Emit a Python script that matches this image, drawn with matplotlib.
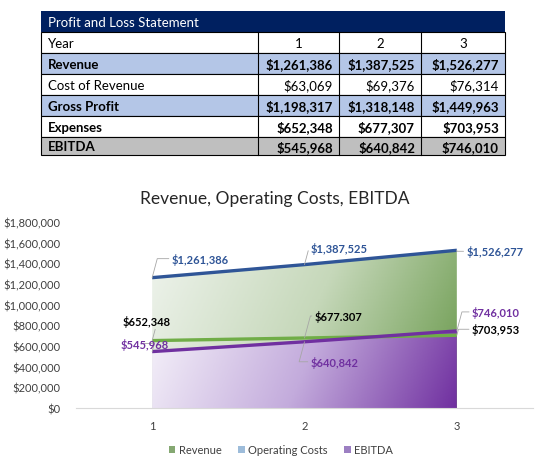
import numpy as np
import matplotlib
matplotlib.use("Agg")
import matplotlib.pyplot as plt
from matplotlib.patches import Rectangle, PathPatch, Patch
from matplotlib.colors import LinearSegmentedColormap

plt.rcParams['font.family'] = ['Lato', 'DejaVu Sans']

# data
years = [1, 2, 3]
revenue = [1261386, 1387525, 1526277]
cost_of_revenue = [63069, 69376, 76314]
gross_profit = [1198317, 1318148, 1449963]
expenses = [652348, 677307, 703953]
ebitda = [545968, 640842, 746010]

row_names = ['Year', 'Revenue', 'Cost of Revenue', 'Gross Profit', 'Expenses', 'EBITDA']
row_bold = [False, True, False, True, True, True]
row_fill = ['white', '#B4C6E7', 'white', '#B4C6E7', 'white', '#BFBFBF']

# labels on the chart (one typo kept as in the source)
exp_labels = ['$652,348', '$677.307', '$703,953']

W, H = 542, 477
fig = plt.figure(figsize=(W / 100, H / 100), dpi=100)

# ---- table, drawn in pixel coords
tab = fig.add_axes([0, 0, 1, 1])
tab.set_xlim(0, W)
tab.set_ylim(H, 0)
tab.axis('off')

col_x = [41, 258, 339, 421, 505]
row_y = [12, 33, 54, 75, 96, 117, 138, 156]

tab.add_patch(Rectangle((col_x[0], row_y[0]), col_x[-1] - col_x[0], row_y[1] - row_y[0],
                        fc='#002060', ec='none'))
tab.text(col_x[0] + 7, (row_y[0] + row_y[1]) / 2 + 0.5, 'Profit and Loss Statement',
         color='white', fontsize=9.5, va='center', ha='left')

def fmt(v):
    return '${:,}'.format(v)

table_rows = [years, revenue, cost_of_revenue, gross_profit, expenses, ebitda]
for i, name in enumerate(row_names):
    y0, y1 = row_y[i + 1], row_y[i + 2]
    yc = (y0 + y1) / 2 + 0.5
    tab.add_patch(Rectangle((col_x[0], y0), col_x[-1] - col_x[0], y1 - y0,
                            fc=row_fill[i], ec='black', lw=0.8))
    for c in range(1, 4):
        tab.plot([col_x[c], col_x[c]], [y0, y1], color='black', lw=0.8)
    fw = 'bold' if row_bold[i] else 'normal'
    tab.text(col_x[0] + 7, yc, name, fontsize=9.5, fontweight=fw, va='center')
    for c, v in enumerate(table_rows[i]):
        if i == 0:
            tab.text((col_x[c + 1] + col_x[c + 2]) / 2, yc, str(v), fontsize=9.5,
                     va='center', ha='center')
        else:
            tab.text(col_x[c + 2] - 6, yc, fmt(v), fontsize=9.5, fontweight=fw,
                     va='center', ha='right')

# ---- chart
ax = fig.add_axes([76 / W, (H - 409) / H, 457 / W, 186 / H])
ax.set_xlim(0.5, 3.5)
ax.set_ylim(0, 1800000)
for s in ['top', 'right', 'left']:
    ax.spines[s].set_visible(False)
ax.spines['bottom'].set_color('#D9D9D9')
ax.tick_params(length=0, labelsize=8, colors='#404040')
ax.tick_params(axis='y', pad=11)
ax.tick_params(axis='x', pad=9)
ax.set_xticks(years)
ax.set_yticks(np.arange(0, 1800001, 200000))
ax.yaxis.set_major_formatter(matplotlib.ticker.FuncFormatter(lambda v, p: '${:,.0f}'.format(v)))

green = LinearSegmentedColormap.from_list('g', ['#EEF3EC', '#C6D8BA', '#68984A'])
purple = LinearSegmentedColormap.from_list('p', ['#F4F0F9', '#C3ABDC', '#7030A0'])

def grad_area(vals, cmap, wx, z):
    poly = ax.fill_between(years, 0, vals, facecolor='none', edgecolor='none')
    path = poly.get_paths()[0]
    patch = PathPatch(path, transform=ax.transData, fc='none', ec='none')
    ax.add_patch(patch)
    u = np.linspace(0, 1, 200)
    v = np.linspace(0, 1, 200)
    U, V = np.meshgrid(u, v)
    t = np.clip(wx * U + (1 - wx) * (1 - V), 0, 1)
    im = ax.imshow(t, cmap=cmap, extent=[years[0], years[-1], 0, max(vals)],
                   origin='lower', aspect='auto', zorder=z, vmin=0, vmax=1)
    im.set_clip_path(patch)

grad_area(revenue, green, 0.8, 1)
grad_area(ebitda, purple, 0.9, 2)
ax.set_xlim(0.5, 3.5)
ax.set_ylim(0, 1800000)

ax.plot(years, revenue, color='#2F5597', lw=2.4, zorder=5, solid_capstyle='butt')
ax.plot(years, expenses, color='#70AD47', lw=2.4, zorder=4, solid_capstyle='butt')
ax.plot(years, ebitda, color='#7030A0', lw=2.4, zorder=5, solid_capstyle='butt')

def lab(x, y, text, off, color):
    ax.annotate(text, xy=(x, y), xytext=off, textcoords='offset pixels',
                ha='center', va='center', fontsize=8, fontweight='bold', color=color,
                zorder=6,
                arrowprops=dict(arrowstyle='-', color='#A6A6A6', lw=0.6,
                                shrinkA=0, shrinkB=0,
                                connectionstyle='angle,angleA=0,angleB=75,rad=0'))

rev_off = [(48, 19), (35, 17), (38, -1)]
exp_off = [(-6, 20), (34, 22), (39, 6)]
ebit_off = [(-8, 8), (30, -20), (39, 19)]
for i, x in enumerate(years):
    lab(x, revenue[i], fmt(revenue[i]), rev_off[i], '#2F5597')
    lab(x, expenses[i], exp_labels[i], exp_off[i], 'black')
    lab(x, ebitda[i], fmt(ebitda[i]), ebit_off[i], '#7030A0')

fig.text(275 / W, 1 - 199 / H, 'Revenue, Operating Costs, EBITDA', fontsize=12.5,
         ha='center', va='center', color='#262626')

handles = [Patch(fc='#85A872', ec='none'), Patch(fc='#9DBCDA', ec='none'),
           Patch(fc='#9C7FC2', ec='none')]
fig.legend(handles, ['Revenue', 'Operating Costs', 'EBITDA'], loc='center',
           bbox_to_anchor=(281 / W, 1 - 451 / H), ncol=3, frameon=False,
           fontsize=8, handlelength=0.6, handleheight=0.6, handletextpad=0.3,
           columnspacing=1.5, labelcolor='#404040')

fig.savefig('out.png', dpi=100)
